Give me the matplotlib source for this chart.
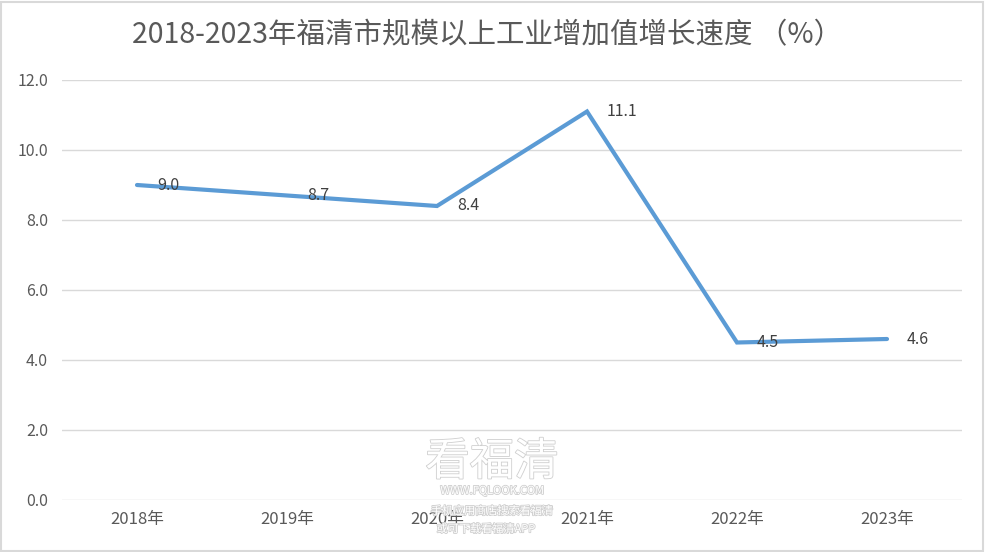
import matplotlib
matplotlib.use("Agg")
import matplotlib.pyplot as plt
from matplotlib.patches import Rectangle
import matplotlib.patheffects as pe

plt.rcParams['font.family'] = ['Noto Sans CJK SC', 'DejaVu Sans']

years = ["2018年", "2019年", "2020年", "2021年", "2022年", "2023年"]
growth = [9.0, 8.7, 8.4, 11.1, 4.5, 4.6]
yticks = [0.0, 2.0, 4.0, 6.0, 8.0, 10.0, 12.0]
title = "2018-2023年福清市规模以上工业增加值增长速度 （%）"

fig = plt.figure(figsize=(9.85, 5.52), dpi=100)
fig.patch.set_facecolor('white')
ax = fig.add_axes([62/985, 1-500/552, 900/985, 420/552])

x = list(range(len(years)))
ax.plot(x, growth, color='#5B9BD5', linewidth=3.0, solid_capstyle='round', solid_joinstyle='miter', zorder=3)

for xi, v in zip(x, growth):
    ax.annotate(f"{v:.1f}", (xi, v), xytext=(20, 0), textcoords='offset pixels',
                ha='left', va='center', fontsize=11.5, color='#404040', zorder=4)

ax.set_xlim(-0.5, len(years) - 0.5)
ax.set_ylim(0, 12)
ax.set_yticks(yticks)
ax.set_yticklabels([f"{t:.1f}" for t in yticks], fontsize=11.5, color='#595959')
ax.set_xticks(x)
ax.set_xticklabels(years, fontsize=12, color='#595959')
ax.tick_params(axis='both', length=0)
ax.tick_params(axis='x', pad=8)
ax.tick_params(axis='y', pad=10)
ax.grid(axis='y', color='#D9D9D9', linewidth=1.0)
ax.set_axisbelow(True)
for s in ax.spines.values():
    s.set_visible(False)

fig.text(487/985, 1-35/552, title, ha='center', va='center', fontsize=20.5, color='#595959')

# watermark
wm_stroke = [pe.Stroke(linewidth=1.2, foreground='#cfcfcf'), pe.Normal()]
fig.text(492/985, 1-462/552, "看福清", ha='center', va='center', fontsize=32,
         color='white', path_effects=wm_stroke, zorder=10)
fig.text(492/985, 1-491/552, "WWW.FQLOOK.COM", ha='center', va='center', fontsize=8,
         color='white', path_effects=wm_stroke, zorder=10)
fig.text(492/985, 1-511/552, "手机应用商店搜索看福清", ha='center', va='center', fontsize=8,
         color='white', path_effects=wm_stroke, zorder=10)
fig.text(486/985, 1-529/552, "或可下载看福清APP", ha='center', va='center', fontsize=8,
         color='white', path_effects=wm_stroke, zorder=10)

fig.patches.append(Rectangle((0.001, 0.002), 0.997, 0.995, transform=fig.transFigure,
                             fill=False, edgecolor='#D9D9D9', linewidth=1.5))

fig.savefig("out.png", dpi=100)
